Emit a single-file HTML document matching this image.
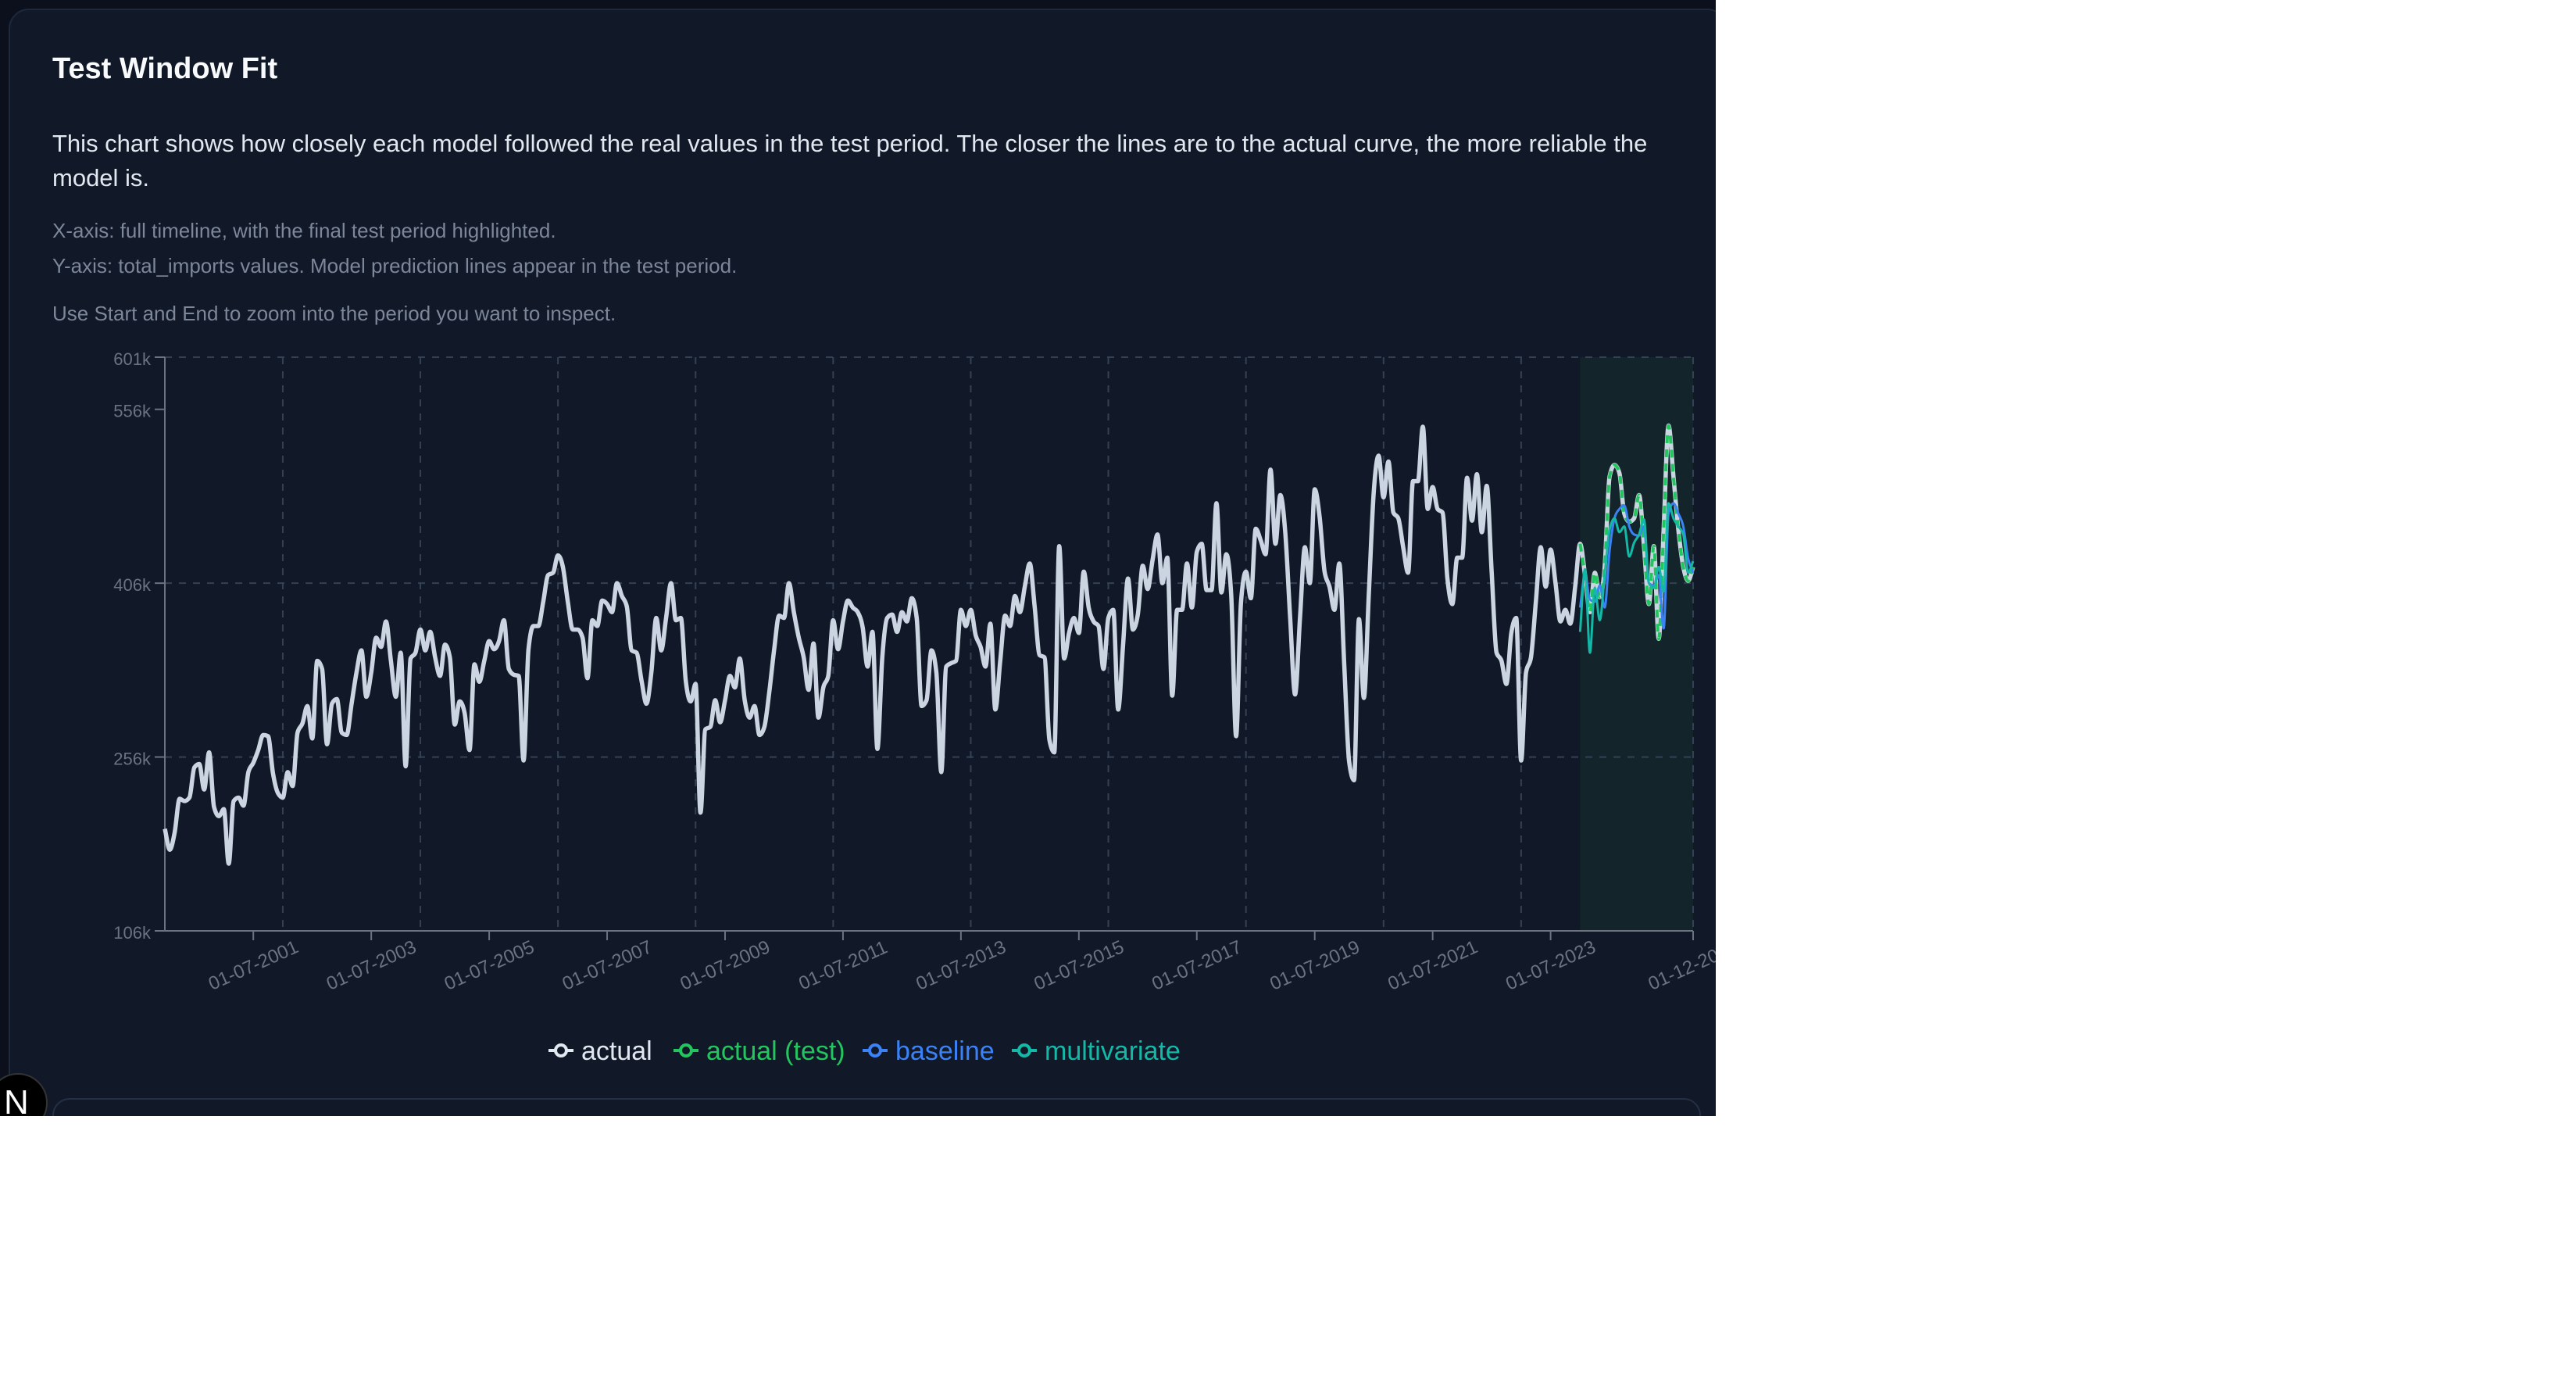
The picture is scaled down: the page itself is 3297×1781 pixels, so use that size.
<!DOCTYPE html>
<html><head><meta charset="utf-8">
<style>
html,body{margin:0;padding:0;background:#fff;}
body{width:3297px;height:1781px;position:relative;overflow:hidden;font-family:"Liberation Sans",sans-serif;}
#dark{position:absolute;left:0;top:0;width:2196px;height:1428px;background:#0b101c;overflow:hidden;}
#panel{position:absolute;left:11px;top:11px;width:2200px;height:1460px;background:#111827;border:2px solid #1e293b;border-radius:26px;overflow:hidden;box-sizing:border-box;}
#title{position:absolute;left:54px;top:54px;font-size:38px;font-weight:bold;color:#f8fafc;margin:0;}
#desc{position:absolute;left:54px;top:149px;width:2080px;font-size:31px;line-height:44px;color:#e2e8f0;margin:0;}
.note{position:absolute;left:54px;font-size:26px;color:#7c8799;margin:0;}
#chart{position:absolute;left:-11px;top:-11px;}
#bottombox{position:absolute;left:54px;top:1392px;width:2110px;height:200px;border:2px solid #243044;border-radius:22px;box-sizing:border-box;}
#nbadge{position:absolute;left:-15px;top:1373px;width:72px;height:72px;border-radius:50%;background:#000;color:#fff;font-size:44px;line-height:72px;text-indent:18px;border:2px solid #333;}
</style></head>
<body>
<div id="dark">
<div id="panel">
  <h2 id="title">Test Window Fit</h2>
  <p id="desc">This chart shows how closely each model followed the real values in the test period. The closer the lines are to the actual curve, the more reliable the model is.</p>
  <p class="note" style="top:267px">X-axis: full timeline, with the final test period highlighted.</p>
  <p class="note" style="top:312px">Y-axis: total_imports values. Model prediction lines appear in the test period.</p>
  <p class="note" style="top:373px">Use Start and End to zoom into the period you want to inspect.</p>
  <svg id="chart" width="2200" height="1430"></svg>
  <div id="bottombox"></div>
</div>
<div id="nbadge">N</div>
</div>
<script>
const actualValues = [194,176,191,220,218,221,247,250,228,260,213,205,211,164,218,221,214,243,251,262,275,274,242,225,221,243,231,277,285,300,272,339,332,267,302,306,277,275,302,329,348,308,329,359,351,373,339,308,346,248,341,346,366,348,364,342,326,353,342,284,304,294,262,336,321,339,356,349,356,374,332,327,326,253,349,369,369,390,413,415,430,420,390,366,366,359,324,374,369,391,388,381,406,395,386,348,346,322,302,329,376,348,376,406,374,376,
322,304,319,208,280,282,305,286,305,326,316,341,305,290,300,275,282,312,349,378,376,406,381,359,342,314,354,290,316,326,374,349,373,391,385,381,368,334,364,263,342,376,379,364,381,373,393,376,300,305,348,329,243,334,337,339,383,369,383,361,351,334,371,297,339,378,369,395,381,403,423,386,344,342,271,260,438,341,363,376,363,416,385,373,369,332,376,383,297,353,410,366,379,421,401,426,448,406,428,309,383,383,423,385,
433,440,
400,400,475,398,431,396,274,390,416,393,453,443,431,504,440,482,450,376,310,376,437,406,487,463,416,403,383,423,336,252,236,375,307,396,484,516,480,511,467,462,437,415,494,494,541,470,489,470,467,410,388,428,428,497,460,500,450,490,416,346,339,319,363,376,253,329,342,390,437,403,435,406,373,383,371,403,
440,413,381,415,394,420,498,508,501,466,459,462,482,438,388,438,358,452,542,498,452,420,408,420];
const baselineValues = [385,413,392,390,404,385,434,462,470,473,455,448,447,455,406,404,413,367,466,475,466,455,427,415];
const multivariateValues = [364,418,346,402,374,413,452,462,450,455,429,441,448,461,406,402,420,399,475,462,455,448,415,425];
const testStartIndex = 288;
const yTickValues = [106,256,406,556,601];
const yGridValues = [256,406,601];
const xTickIndices = [18,42,66,90,114,138,162,186,210,234,258,282,311];
const xGridIndices = [24,52,80,108,136,164,192,220,248,276,311];
const legendLabels = ["actual","actual (test)","baseline","multivariate"];
const legendColors = ["#e2e8f0","#22c55e","#3b82f6","#14b8a6"];

const svg = document.getElementById('chart');
const NS = 'http://www.w3.org/2000/svg';
const L=209,R=2165,T=455,B=1189, YMIN=106, YMAX=601;
const N = actualValues.length;
function xs(i){return L + i*(R-L)/(N-1);}
function ys(v){return B - (v-YMIN)/(YMAX-YMIN)*(B-T);}
function mk(tag, attrs){const e=document.createElementNS(NS,tag);for(const k in attrs)e.setAttribute(k,attrs[k]);svg.appendChild(e);return e;}
function dateLabel(i){const y=2000+Math.floor(i/12), m=i%12+1;return '01-'+String(m).padStart(2,'0')+'-'+y;}
function monotonePath(pts){
  const n=pts.length; if(n<2) return '';
  const dx=[],s=[];
  for(let i=0;i<n-1;i++){dx[i]=pts[i+1][0]-pts[i][0];s[i]=(pts[i+1][1]-pts[i][1])/dx[i];}
  const t=[s[0]];
  for(let i=1;i<n-1;i++){ if(s[i-1]*s[i]<=0) t[i]=0; else {const h0=dx[i-1],h1=dx[i];const p=(s[i-1]*h1+s[i]*h0)/(h0+h1);t[i]=(Math.sign(s[i-1])+Math.sign(s[i]))*Math.min(Math.abs(s[i-1]),Math.abs(s[i]),0.5*Math.abs(p))||0;} }
  t[n-1]=s[n-2];
  let d='M'+pts[0][0]+','+pts[0][1];
  for(let i=0;i<n-1;i++){const h=dx[i]/3;d+='C'+(pts[i][0]+h)+','+(pts[i][1]+h*t[i])+','+(pts[i+1][0]-h)+','+(pts[i+1][1]-h*t[i+1])+','+pts[i+1][0]+','+pts[i+1][1];}
  return d;
}

const band = mk('rect',{x:xs(testStartIndex),y:T,width:R-xs(testStartIndex),height:B-T,fill:'#13252a'});



yGridValues.forEach(v=>{
  const g=mk('line',{x1:L,x2:R,y1:ys(v),y2:ys(v),stroke:'#334155','stroke-width':2,'stroke-dasharray':'9 9'});
  
  
});
xGridIndices.forEach(i=>{
  const g=mk('line',{x1:xs(i),x2:xs(i),y1:T,y2:B,stroke:'#334155','stroke-width':2,'stroke-dasharray':'9 9'});
  
  
});

const ya=mk('line',{x1:L,x2:L,y1:T,y2:B,stroke:'#6b7280','stroke-width':2});


const xa=mk('line',{x1:L,x2:R,y1:B,y2:B,stroke:'#6b7280','stroke-width':2});


yTickValues.forEach(v=>{
  const tk=mk('line',{x1:L-13,x2:L,y1:ys(v),y2:ys(v),stroke:'#6b7280','stroke-width':2});
  
  
  const tx=mk('text',{x:L-18,y:ys(v)+10,'text-anchor':'end','font-size':22,fill:'#6b7280','font-family':'Liberation Sans, sans-serif'});
  tx.textContent=v+'k';
  
  
});
xTickIndices.forEach(i=>{
  const x=xs(i);
  const tk=mk('line',{x1:x,x2:x,y1:B,y2:B+12,stroke:'#6b7280','stroke-width':2});
  
  
  const tx=mk('text',{x:x,y:B+52,'text-anchor':'middle','font-size':24,fill:'#6b7280','font-family':'Liberation Sans, sans-serif',transform:'rotate(-24 '+x+' '+(B+44)+')'});
  tx.textContent=dateLabel(i);
  
  
});

const actualPts=actualValues.map((v,i)=>[xs(i),ys(v)]);
const pa=mk('path',{d:monotonePath(actualPts),fill:'none',stroke:'#cbd5e1','stroke-width':5.5,'stroke-linejoin':'round'});


const testPts=actualValues.slice(testStartIndex).map((v,k)=>[xs(testStartIndex+k),ys(v)]);
const pt=mk('path',{d:monotonePath(testPts),fill:'none',stroke:'#22c55e','stroke-width':4,'stroke-dasharray':'10 8'});


const bPts=baselineValues.map((v,k)=>[xs(testStartIndex+k),ys(v)]);
const pb=mk('path',{d:monotonePath(bPts),fill:'none',stroke:'#3b82f6','stroke-width':3});


const mPts=multivariateValues.map((v,k)=>[xs(testStartIndex+k),ys(v)]);
const pm=mk('path',{d:monotonePath(mPts),fill:'none',stroke:'#14b8a6','stroke-width':3});



const legendX=[700,860,1102,1293];
legendLabels.forEach((lab,j)=>{
  const x0=legendX[j], yc=1342, c=legendColors[j];
  const ln=mk('line',{x1:x0,x2:x0+32,y1:yc,y2:yc,stroke:c,'stroke-width':4});
  
  
  const ci=mk('circle',{cx:x0+16,cy:yc,r:7,fill:'#111827',stroke:c,'stroke-width':4});
  
  
  const tx=mk('text',{x:x0+42,y:yc+12,'font-size':34,fill:c,'font-family':'Liberation Sans, sans-serif'});
  tx.textContent=lab;
  
  
});
</script>
</body></html>
